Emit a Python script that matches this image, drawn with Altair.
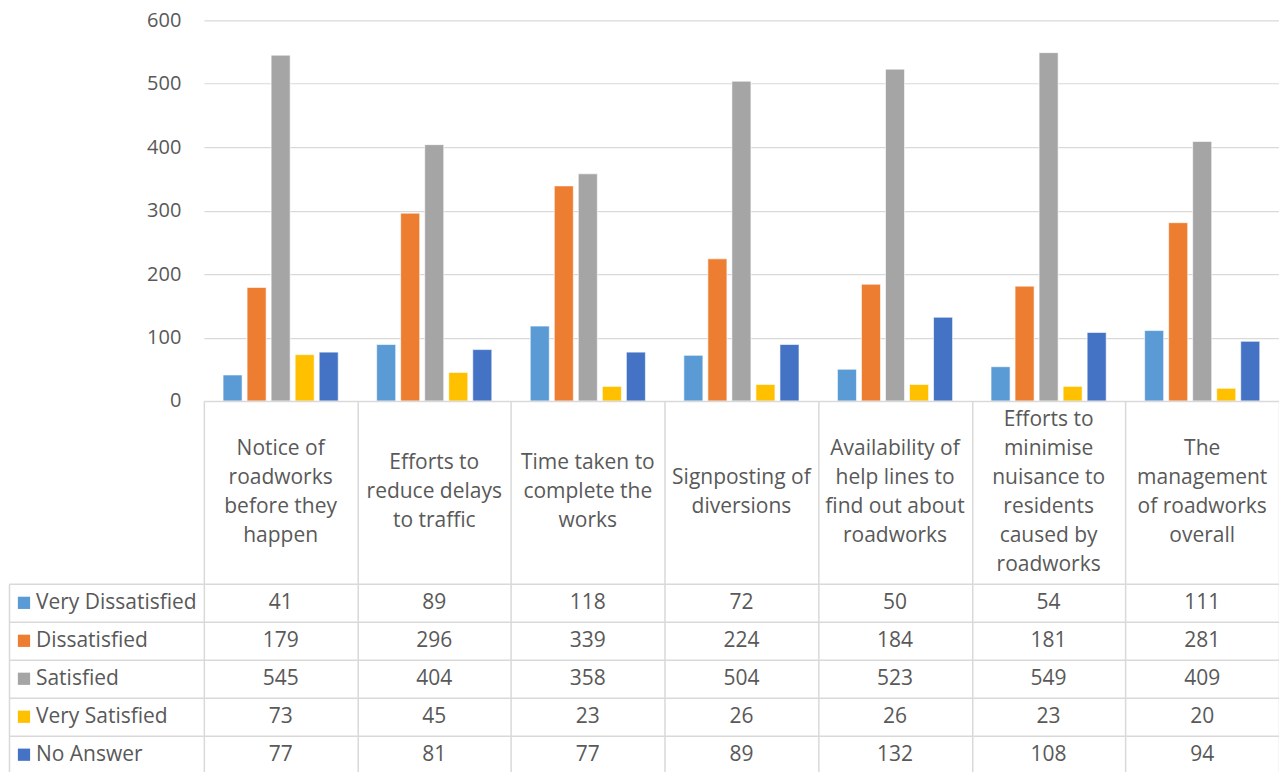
import altair as alt
import pandas as pd

categories = [
    "Notice of\nroadworks\nbefore they\nhappen",
    "Efforts to\nreduce delays\nto traffic",
    "Time taken to\ncomplete the\nworks",
    "Signposting of\ndiversions",
    "Availability of\nhelp lines to\nfind out about\nroadworks",
    "Efforts to\nminimise\nnuisance to\nresidents\ncaused by\nroadworks",
    "The\nmanagement\nof roadworks\noverall",
]
series = ["Very Dissatisfied", "Dissatisfied", "Satisfied", "Very Satisfied", "No Answer"]
colors = ["#5B9BD5", "#ED7D31", "#A5A5A5", "#FFC000", "#4472C4"]

very_dissatisfied = [41, 89, 118, 72, 50, 54, 111]
dissatisfied = [179, 296, 339, 224, 184, 181, 281]
satisfied = [545, 404, 358, 504, 523, 549, 409]
very_satisfied = [73, 45, 23, 26, 26, 23, 20]
no_answer = [77, 81, 77, 89, 132, 108, 94]
y_ticks = [0, 100, 200, 300, 400, 500, 600]

values = [very_dissatisfied, dissatisfied, satisfied, very_satisfied, no_answer]
rows = []
for s, vals in zip(series, values):
    for c, v in zip(categories, vals):
        rows.append({"category": c, "series": s, "value": v})
df = pd.DataFrame(rows)
cat_df = pd.DataFrame({"category": categories})
ser_df = pd.DataFrame({"series": series})

FONT = "Open Sans"
TXT = "#595959"
GRID = "#D9D9D9"
FS = 21
AXIS_FS = 20
LINE_H = 29
PLOT_W = 1076
LEG_W = 195
PLOT_H = 381
HEAD_H = 183
TABLE_H = 190

cat_scale = alt.Scale(domain=categories, paddingInner=0, paddingOuter=0)
ser_scale = alt.Scale(domain=series, paddingInner=0, paddingOuter=0)
color_scale = alt.Scale(domain=series, range=colors)


def cell_axis(**kw):
    # borders between table cells, drawn at the band extents
    return alt.Axis(title=None, labels=False, ticks=False, grid=True,
                    gridColor=GRID, gridWidth=1.5, tickBand="extent",
                    domainColor=GRID, domainWidth=1.5, **kw)


# clustered bars
bars = alt.Chart(df).mark_bar(stroke="white", strokeWidth=0.6).encode(
    x=alt.X("category:N", sort=categories, scale=cat_scale, axis=None),
    xOffset=alt.XOffset("series:N", sort=series,
                        scale=alt.Scale(domain=series, paddingInner=0.208, paddingOuter=0.8)),
    y=alt.Y("value:Q", scale=alt.Scale(domain=[0, 600], nice=False),
            axis=alt.Axis(title=None, values=y_ticks, domain=False, ticks=False,
                          labelPadding=23, labelFont=FONT, labelFontSize=AXIS_FS,
                          labelColor=TXT, gridColor=GRID, gridWidth=1.2)),
    color=alt.Color("series:N", scale=color_scale, legend=None),
).properties(width=PLOT_W, height=PLOT_H)

spacer_top = alt.Chart(cat_df).mark_text(text="").properties(width=LEG_W, height=PLOT_H)
spacer_head = alt.Chart(cat_df).mark_text(text="").properties(width=LEG_W, height=HEAD_H)

# category header row: wrapped labels, each block centred vertically
head_base = alt.Chart(cat_df).transform_calculate(
    nlines="length(split(datum.category, '\\n'))"
)
line_counts = sorted({c.count("\n") + 1 for c in categories})
head_layers = []
for n in line_counts:
    head_layers.append(
        head_base.transform_filter(alt.datum.nlines == n).mark_text(
            font=FONT, fontSize=FS, color=TXT, lineBreak="\n", lineHeight=LINE_H,
            align="center", baseline="middle", dy=-(n - 1) * LINE_H / 2,
        ).encode(
            x=alt.X("category:N", sort=categories, scale=cat_scale,
                    axis=cell_axis(orient="top", domain=True)),
            y=alt.value(HEAD_H / 2),
            text="category:N",
        )
    )
header = alt.layer(*head_layers).properties(width=PLOT_W, height=HEAD_H)

# value table
table = alt.Chart(df).mark_text(font=FONT, fontSize=FS, color=TXT).encode(
    x=alt.X("category:N", sort=categories, scale=cat_scale, axis=cell_axis(domain=False)),
    y=alt.Y("series:N", sort=series, scale=ser_scale, axis=cell_axis(domain=False)),
    text="value:Q",
).properties(width=PLOT_W, height=TABLE_H)

# series keys beside the table
leg_keys = alt.Chart(ser_df).mark_square(size=150, opacity=1).encode(
    x=alt.value(15),
    y=alt.Y("series:N", sort=series, scale=ser_scale, axis=cell_axis(domain=True)),
    color=alt.Color("series:N", scale=color_scale, legend=None),
)
leg_text = alt.Chart(ser_df).mark_text(
    font=FONT, fontSize=FS, color=TXT, align="left", baseline="middle"
).encode(
    x=alt.value(27),
    y=alt.Y("series:N", sort=series, scale=ser_scale, axis=cell_axis(domain=True)),
    text="series:N",
)
legend_col = alt.layer(leg_keys, leg_text).properties(width=LEG_W, height=TABLE_H)

chart = alt.concat(
    spacer_top, bars,
    spacer_head, header,
    legend_col, table,
    columns=2, spacing=0, bounds="flush",
).properties(
    padding={"left": 9, "top": 10, "right": 0, "bottom": 0},
    background="white",
).configure_view(stroke=None)

chart.save("out.html", embed_options={"renderer": "svg", "actions": False})
